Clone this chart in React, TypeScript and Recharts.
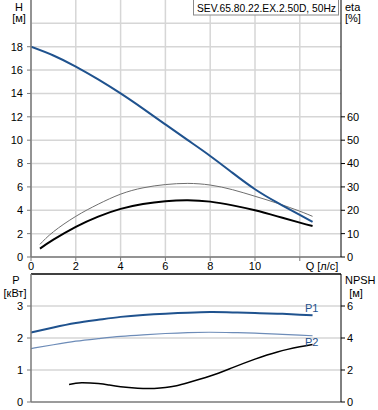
import React from 'react';
import {
  ComposedChart,
  Line,
  XAxis,
  YAxis,
  CartesianGrid,
  ReferenceLine,
} from 'recharts';

// axis ticks
const qTicks = [0, 2, 4, 6, 8, 10, 12];
const hTicks = [0, 2, 4, 6, 8, 10, 12, 14, 16, 18];
const hGrid = [0, 2, 4, 6, 8, 10, 12, 14, 16, 18, 20];
const etaTicks = [0, 10, 20, 30, 40, 50, 60];
const pTicks = [0, 1, 2, 3];
const npshTicks = [0, 2, 4, 6];

// head curve
const qHead = [0, 1, 2, 3, 4, 5, 6, 7, 8, 9, 10, 11, 12, 12.57];
const head = [18, 17.25, 16.3, 15.2, 14.0, 12.7, 11.35, 10.0, 8.65, 7.2, 5.8, 4.65, 3.6, 3.0];

// efficiency curves
const qEta = [0.4, 1, 2, 3, 4, 5, 6, 7, 8, 9, 10, 11, 12, 12.57];
const etaThin = [5.4, 10.8, 17.4, 22.6, 26.9, 29.6, 31.0, 31.5, 30.8, 28.8, 26.0, 23.0, 19.6, 17.4];
const etaThick = [3.6, 7.4, 12.9, 17.3, 20.6, 22.7, 23.9, 24.3, 23.7, 22.1, 20.0, 17.4, 14.7, 13.3];

// power curves
const qPower = [0, 1, 2, 3, 4, 5, 6, 7, 8, 9, 10, 11, 12, 12.57];
const powerP1 = [2.17, 2.33, 2.47, 2.57, 2.66, 2.72, 2.76, 2.79, 2.81, 2.8, 2.78, 2.76, 2.73, 2.71];
const powerP2 = [1.67, 1.79, 1.9, 1.98, 2.05, 2.1, 2.14, 2.17, 2.18, 2.17, 2.15, 2.12, 2.09, 2.07];

// npsh curve
const qNpsh = [1.7, 2, 2.3, 3, 3.5, 4, 4.5, 5, 5.5, 6, 6.5, 7, 8, 9, 10, 11, 12, 12.57];
const npsh = [1.09, 1.17, 1.2, 1.15, 1.06, 0.96, 0.89, 0.85, 0.85, 0.9, 1.02, 1.2, 1.62, 2.15, 2.68, 3.13, 3.45, 3.6];

const zip = (xs: number[], ys: number[]) => xs.map((q, i) => ({ q, v: ys[i] }));

const FONT = '"Liberation Sans", Arial, sans-serif';
const tickStyle = { fontSize: 11, fill: '#000', fontFamily: FONT };
const X_MAX = 13.84;
const GRID = '#d6d6d6';
const AXIS = '#7a7a7a';
const BLUE = '#1f528e';

const App: React.FC = () => {
  return (
    <div
      style={{
        position: 'absolute',
        left: 0,
        top: 0,
        width: 378,
        height: 410,
        background: '#fff',
        fontFamily: FONT,
      }}
    >
      <ComposedChart width={378} height={273} margin={{ top: 0, right: 0, bottom: 0, left: 0 }}>
        <CartesianGrid
          stroke={GRID}
          strokeWidth={1.5}
          horizontalValues={hGrid}
          verticalValues={qTicks}
        />
        <XAxis
          dataKey="q"
          type="number"
          domain={[0, X_MAX]}
          ticks={qTicks}
          allowDataOverflow
          height={16}
          tickSize={4}
          tickMargin={1}
          tick={tickStyle}
          tickFormatter={(v) => (v === 12 ? '' : String(v))}
          axisLine={{ stroke: AXIS, strokeWidth: 1.5 }}
          tickLine={{ stroke: AXIS }}
        />
        <YAxis
          domain={[0, 22]}
          ticks={hTicks}
          width={31}
          tickSize={4}
          tickMargin={4}
          tick={tickStyle}
          axisLine={{ stroke: AXIS, strokeWidth: 1.5 }}
          tickLine={{ stroke: AXIS }}
          allowDataOverflow
        />
        <YAxis
          yAxisId="eta"
          orientation="right"
          domain={[0, 110]}
          ticks={etaTicks}
          width={37}
          tickSize={4}
          tickMargin={2}
          tick={tickStyle}
          axisLine={{ stroke: '#000' }}
          tickLine={{ stroke: '#000' }}
          allowDataOverflow
        />
        <Line data={zip(qEta, etaThin)} yAxisId="eta" dataKey="v" type="natural" dot={false} stroke="#6e6e6e" strokeWidth={1} isAnimationActive={false} />
        <Line data={zip(qEta, etaThick)} yAxisId="eta" dataKey="v" type="natural" dot={false} stroke="#000" strokeWidth={2} isAnimationActive={false} />
        <Line data={zip(qHead, head)} dataKey="v" type="natural" dot={false} stroke={BLUE} strokeWidth={2} isAnimationActive={false} />
      </ComposedChart>

      <div style={{ position: 'absolute', left: 0, top: 270 }}>
        <ComposedChart width={378} height={140} margin={{ top: 4, right: 0, bottom: 0, left: 0 }}>
          <CartesianGrid stroke={GRID} strokeWidth={1.5} verticalValues={qTicks} horizontalValues={pTicks} />
          <XAxis
            dataKey="q"
            type="number"
            domain={[0, X_MAX]}
            ticks={qTicks}
            allowDataOverflow
            height={8}
            tick={false}
            tickLine={false}
            axisLine={{ stroke: AXIS, strokeWidth: 1.5 }}
          />
          <YAxis
            domain={[0, 4]}
            ticks={pTicks}
            width={31}
            tickSize={4}
            tickMargin={4}
            tick={tickStyle}
            axisLine={{ stroke: AXIS, strokeWidth: 1.5 }}
            tickLine={{ stroke: AXIS }}
            allowDataOverflow
          />
          <YAxis
            yAxisId="npsh"
            orientation="right"
            domain={[0, 8]}
            ticks={npshTicks}
            width={37}
            tickSize={4}
            tickMargin={2}
            tick={tickStyle}
            axisLine={{ stroke: '#000' }}
            tickLine={{ stroke: '#000' }}
            allowDataOverflow
          />
          <ReferenceLine y={4} stroke="#000" strokeWidth={1.5} />
          <Line data={zip(qPower, powerP2)} dataKey="v" type="natural" dot={false} stroke="#6d8cb8" strokeWidth={1.2} isAnimationActive={false} />
          <Line data={zip(qPower, powerP1)} dataKey="v" type="natural" dot={false} stroke={BLUE} strokeWidth={2} isAnimationActive={false} />
          <Line data={zip(qNpsh, npsh)} yAxisId="npsh" dataKey="v" type="natural" dot={false} stroke="#000" strokeWidth={1.5} isAnimationActive={false} />
        </ComposedChart>
      </div>

      <svg
        width={378}
        height={410}
        style={{ position: 'absolute', left: 0, top: 0, pointerEvents: 'none' }}
        fontFamily={FONT}
        fontSize={11}
      >
        <rect x={193.5} y={-1} width={145} height={16} fill="#fff" stroke="#8a8a8a" />
        <text x={197} y={11.5} textLength={139} lengthAdjust="spacingAndGlyphs">
          SEV.65.80.22.EX.2.50D, 50Hz
        </text>
        <text x={19} y={10.5} textAnchor="middle">H</text>
        <text x={19} y={22} textAnchor="middle">[м]</text>
        <text x={345} y={10.5}>eta</text>
        <text x={345} y={22}>[%]</text>
        <text x={322} y={270} textAnchor="middle">Q [л/с]</text>
        <text x={16} y={284} textAnchor="middle">P</text>
        <text x={15} y={297} textAnchor="middle">[кВт]</text>
        <text x={345} y={284}>NPSH</text>
        <text x={356} y={297} textAnchor="middle">[м]</text>
        <text x={305} y={312} fill={BLUE}>P1</text>
        <text x={305} y={346} fill={BLUE}>P2</text>
      </svg>
    </div>
  );
};

export default App;
